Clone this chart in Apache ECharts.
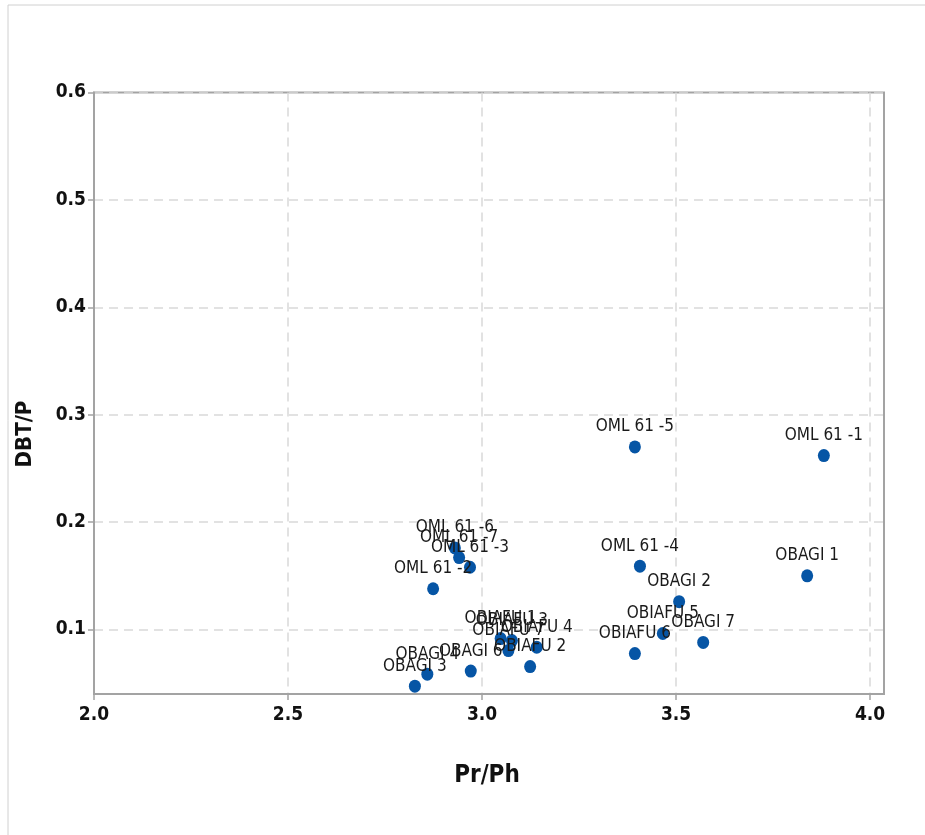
<!DOCTYPE html>
<html>
<head>
<meta charset="utf-8">
<script src="https://cdn.jsdelivr.net/npm/echarts@6/dist/echarts.min.js"></script>
<style>
html,body{margin:0;padding:0;background:#fff;}
#chart{width:925px;height:835px;}
</style>
</head>
<body>
<div id="chart"></div>
<script>
// Sample names
const names = [
  'OML 61 -1','OML 61 -2','OML 61 -3','OML 61 -4','OML 61 -5','OML 61 -6','OML 61 -7',
  'OBAGI 1','OBAGI 2','OBAGI 3','OBAGI 4','OBAGI 6','OBAGI 7',
  'OBIAFU 1','OBIAFU 2','OBIAFU 3','OBIAFU 4','OBIAFU 5','OBIAFU 6','OBIAFU 7'
];
// Pr/Ph values
const prPh = [
  3.881, 2.874, 2.969, 3.407, 3.394, 2.930, 2.941,
  3.838, 3.508, 2.827, 2.859, 2.971, 3.570,
  3.048, 3.124, 3.077, 3.141, 3.466, 3.394, 3.068
];
// DBT/P values
const dbtP = [
  0.262, 0.138, 0.158, 0.159, 0.270, 0.176, 0.167,
  0.150, 0.126, 0.0473, 0.0585, 0.0613, 0.088,
  0.0916, 0.0655, 0.0897, 0.0835, 0.0963, 0.0776, 0.0804
];
const xTicks = [2.0, 2.5, 3.0, 3.5, 4.0];
const yTicks = [0.1, 0.2, 0.3, 0.4, 0.5, 0.6];

const FONT = '"Liberation Sans Narrow", "DejaVu Sans Condensed", "Liberation Sans", sans-serif';
const AXIS_COLOR = '#a3a3a3';

const data = names.map((n, i) => ({ name: n, value: [prPh[i], dbtP[i]] }));

const chart = echarts.init(document.getElementById('chart'), null, { renderer: 'canvas' });
chart.setOption({
  backgroundColor: '#ffffff',
  animation: false,
  grid: {
    left: 94, right: 41, top: 92.5, bottom: 141,
    show: true, borderColor: AXIS_COLOR, borderWidth: 2, backgroundColor: 'transparent'
  },
  graphic: [
    { type: 'rect', shape: { x: 8, y: 5, width: 1200, height: 1200 },
      style: { fill: 'none', stroke: '#d0d0d0', lineWidth: 1 }, z: -10, silent: true },
    { type: 'text', x: 25, y: 434, rotation: Math.PI / 2,
      style: { text: 'DBT/P', font: 'bold 22px ' + FONT, fill: '#111', align: 'center', verticalAlign: 'middle' } },
    { type: 'text', x: 487, y: 776,
      style: { text: 'Pr/Ph', font: 'bold 24px ' + FONT, fill: '#111', align: 'center', verticalAlign: 'middle' } }
  ],
  xAxis: {
    type: 'value', min: 2.0, max: 4.036,
    axisLine: { show: true, onZero: false, lineStyle: { color: AXIS_COLOR, width: 2 } },
    axisTick: { show: true, length: 6, customValues: xTicks, lineStyle: { color: AXIS_COLOR, width: 1.5 } },
    axisLabel: { customValues: xTicks, color: '#111', fontSize: 19, fontWeight: 'bold', fontFamily: FONT, margin: 12,
      formatter: v => Number(v).toFixed(1) },
    splitLine: { show: true, lineStyle: { color: '#d9d9d9', width: 1.5, type: [9, 6] } }
  },
  yAxis: {
    type: 'value', min: 0.04, max: 0.6,
    axisLine: { show: true, onZero: false, lineStyle: { color: AXIS_COLOR, width: 2 } },
    axisTick: { show: true, length: 6, customValues: yTicks, lineStyle: { color: AXIS_COLOR, width: 1.5 } },
    axisLabel: { customValues: yTicks, color: '#111', fontSize: 19, fontWeight: 'bold', fontFamily: FONT, margin: 8,
      formatter: v => Number(v).toFixed(1) },
    splitLine: { show: true, lineStyle: { color: '#d9d9d9', width: 1.5, type: [9, 6] } }
  },
  series: [{
    type: 'scatter',
    data: data,
    symbol: 'circle',
    symbolSize: [12, 13],
    itemStyle: { color: '#0655a5', opacity: 1 },
    label: {
      show: true, position: 'top', distance: 5,
      formatter: p => p.name,
      color: '#1a1a1a', fontSize: 17, fontFamily: FONT
    },
    labelLayout: { hideOverlap: false }
  }]
});
</script>
</body>
</html>
